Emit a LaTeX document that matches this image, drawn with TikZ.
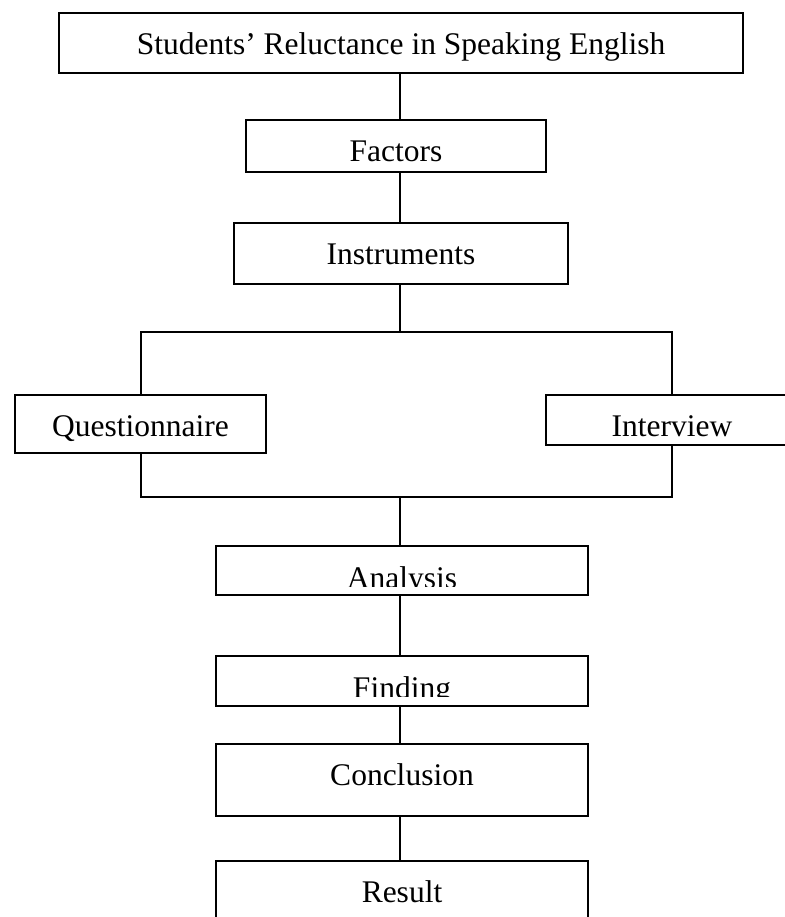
\documentclass[tikz,border=0pt]{standalone}
\usepackage{fontspec}
\setmainfont{Liberation Serif}

\begin{document}
\begin{tikzpicture}[x=0.5pt, y=-0.5pt, line width=1pt,
  font=\fontsize{15.75}{18}\selectfont,
  box/.style={draw, inner sep=0pt, anchor=north west, text height=20.5pt},
  lbl/.style={inner sep=0pt, anchor=base}]
\useasboundingbox (0,0) rectangle (785,917);
\clip (0,0) rectangle (785,917);
\coordinate (spine) at (400,0);
\coordinate (fork-top) at (400,332);
\coordinate (fork-bot) at (400,497);
% boxes
\node (topic) at (58,12) [box, minimum width=342pt, text depth=9.5pt] {Students' Reluctance in Speaking English};
\node (factors) at (245,119) [box, minimum width=150pt, text depth=5.5pt] {Factors};
\node (instruments) at (233,222) [box, minimum width=167pt, text depth=10pt] {Instruments};
\node (questionnaire) at (14,394) [box, minimum width=125.5pt, text depth=8.5pt] {Questionnaire};
\node (interview) at (545,394) [box, minimum width=126pt, text depth=4.5pt] {Interview};
\node (analysis) at (215,545) [box, minimum width=186pt, text depth=4pt] {};
\node (finding) at (215,655) [box, minimum width=186pt, text depth=4.5pt] {};
\node (conclusion) at (215,743) [box, minimum width=186pt, text depth=15.5pt] {Conclusion};
\node (result) at (215,860) [box, minimum width=186pt, text depth=20pt] {Result};
% cut-off labels
\begin{scope}
\clip ([yshift=5pt]analysis.south west) rectangle (analysis.north east);
\node (analysis-lbl) at ([yshift=4pt]analysis.south) [lbl] {Analysis};
\end{scope}
\begin{scope}
\clip ([yshift=5.5pt]finding.south west) rectangle (finding.north east);
\node (finding-lbl) at ([yshift=4.5pt]finding.south) [lbl] {Finding};
\end{scope}
% connectors
\draw (topic.south -| spine) -- (factors.north -| spine);
\draw (factors.south -| spine) -- (instruments.north -| spine);
\draw (instruments.south -| spine) -- (fork-top);
\draw (questionnaire.north) |- (fork-top) -| (interview.north);
\draw (questionnaire.south) |- (fork-bot) -| (interview.south);
\draw (fork-bot) -- (analysis.north -| spine);
\draw (analysis.south -| spine) -- (finding.north -| spine);
\draw (finding.south -| spine) -- (conclusion.north -| spine);
\draw (conclusion.south -| spine) -- (result.north -| spine);
\end{tikzpicture}
\end{document}
